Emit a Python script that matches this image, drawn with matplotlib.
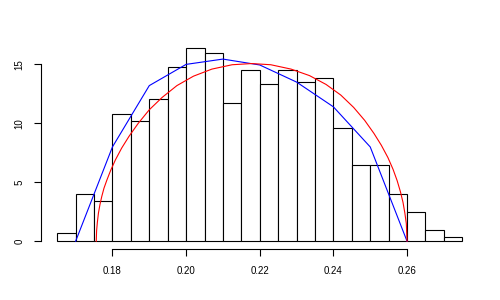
import numpy as np
import matplotlib.pyplot as plt

plt.rcParams['font.family'] = ['Liberation Sans', 'DejaVu Sans']

bin_edges = [0.165, 0.17, 0.175, 0.18, 0.185, 0.19, 0.195, 0.2, 0.205, 0.21, 0.215, 0.22,
             0.225, 0.23, 0.235, 0.24, 0.245, 0.25, 0.255, 0.26, 0.265, 0.27, 0.275]
density = [0.68, 4.0, 3.39, 10.8, 10.2, 12.03, 14.8, 16.36, 16.0, 11.72, 14.49,
           13.3, 14.49, 13.53, 13.87, 9.58, 6.47, 6.47, 4.0, 2.46, 0.93, 0.34]

blue_x = [0.17, 0.18, 0.19, 0.20, 0.21, 0.22, 0.23, 0.24, 0.25, 0.26]
blue_y = [0, 8.0, 13.2, 15.0, 15.45, 14.95, 13.5, 11.4, 8.0, 0]

red_x = [0.1756, 0.1757, 0.1759, 0.1762, 0.1766, 0.1771, 0.1777, 0.1785, 0.1795, 0.1808,
         0.1825, 0.1845, 0.187, 0.19, 0.1935, 0.1975, 0.202, 0.207, 0.2125, 0.2178,
         0.223, 0.2285, 0.2335, 0.238, 0.242, 0.2455, 0.2485, 0.251, 0.253, 0.2548,
         0.2562, 0.2573, 0.2582, 0.2589, 0.2594, 0.2598, 0.26]
red_y = [0, 0.9, 1.6, 2.4, 3.1, 3.8, 4.5, 5.2, 6.0, 6.9,
         7.9, 8.9, 10.0, 11.15, 12.2, 13.2, 14.0, 14.6, 14.97, 15.07,
         14.97, 14.6, 14.05, 13.3, 12.4, 11.35, 10.25, 9.15, 8.15, 7.1,
         6.1, 5.15, 4.2, 3.3, 2.4, 1.5, 0]

fig = plt.figure(figsize=(5, 3), dpi=100)
ax = fig.add_axes([0.082, 0.169, 0.875, 0.695])

ax.bar(bin_edges[:-1], density, width=np.diff(bin_edges), align='edge',
       color='white', edgecolor='black', linewidth=0.8)
ax.plot(blue_x, blue_y, color='blue', linewidth=0.8)
ax.plot(red_x, red_y, color='red', linewidth=0.8)

ax.set_xlim(0.1606, 0.2794)
ax.set_ylim(-0.68, 17.0)

for s in ['top', 'right']:
    ax.spines[s].set_visible(False)
ax.spines['left'].set_bounds(0, 15)
ax.spines['bottom'].set_bounds(0.18, 0.26)
ax.spines['left'].set_linewidth(0.8)
ax.spines['bottom'].set_linewidth(0.8)

ax.set_xticks([0.18, 0.20, 0.22, 0.24, 0.26])
ax.set_xticklabels(['0.18', '0.20', '0.22', '0.24', '0.26'])
ax.set_yticks([0, 5, 10, 15])
ax.set_yticklabels(['0', '5', '10', '15'], rotation=90, va='center')
ax.tick_params(labelsize=7, length=5, width=0.8, pad=7)

fig.savefig('out.png', dpi=100)
